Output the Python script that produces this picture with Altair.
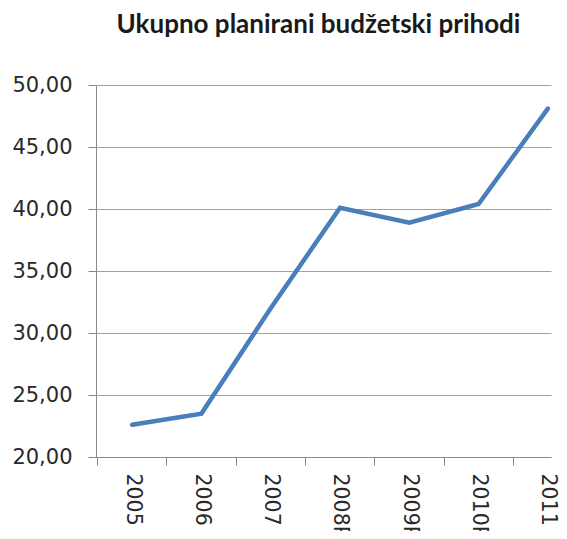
import altair as alt
import pandas as pd

years = ["2005", "2006", "2007", "2008R", "2009R", "2010R", "2011"]
values = [22.6, 23.5, 32.0, 40.1, 38.9, 40.4, 48.1]
y_ticks = [20, 25, 30, 35, 40, 45, 50]

df = pd.DataFrame({"year": years, "value": values})

chart = alt.Chart(df).mark_line(color="#4a7ebb", strokeWidth=4.5, strokeCap="round", strokeJoin="miter").encode(
    x=alt.X("year:O", sort=years,
            scale=alt.Scale(type="point", padding=0.2835, align=0.92),
            axis=alt.Axis(title=None, labelAngle=90, labelFont="DejaVu Sans", labelFontSize=20.5,
                          labelColor="#2a2a2a", labelPadding=8, tickSize=8, tickOffset=-35,
                          labelOffset=35,
                          tickColor="#888888", domainColor="#888888", grid=False,
                          labelOverlap=False)),
    y=alt.Y("value:Q",
            scale=alt.Scale(domain=[20, 50], nice=False, zero=False),
            axis=alt.Axis(title=None, values=y_ticks,
                          labelExpr="replace(format(datum.value, '.2f'), '.', ',')",
                          labelFont="DejaVu Sans", labelFontSize=21, labelColor="#2a2a2a",
                          labelPadding=16, tickSize=8, tickColor="#888888",
                          domainColor="#888888", gridColor="#a0a0a0", gridWidth=1)),
).properties(
    width=455,
    height=372,
    title=alt.TitleParams("Ukupno planirani budžetski prihodi", font="Lato", fontSize=26,
                          fontWeight="bold", color="#1a1a1a", anchor="middle", dx=-5,
                          offset=36),
    autosize=alt.AutoSizeParams(type="none"),
    padding={"left": 88, "top": 77, "right": 8, "bottom": 74},
).configure_view(stroke=None)

chart.save("out.html", embed_options={"renderer": "svg", "actions": False})
